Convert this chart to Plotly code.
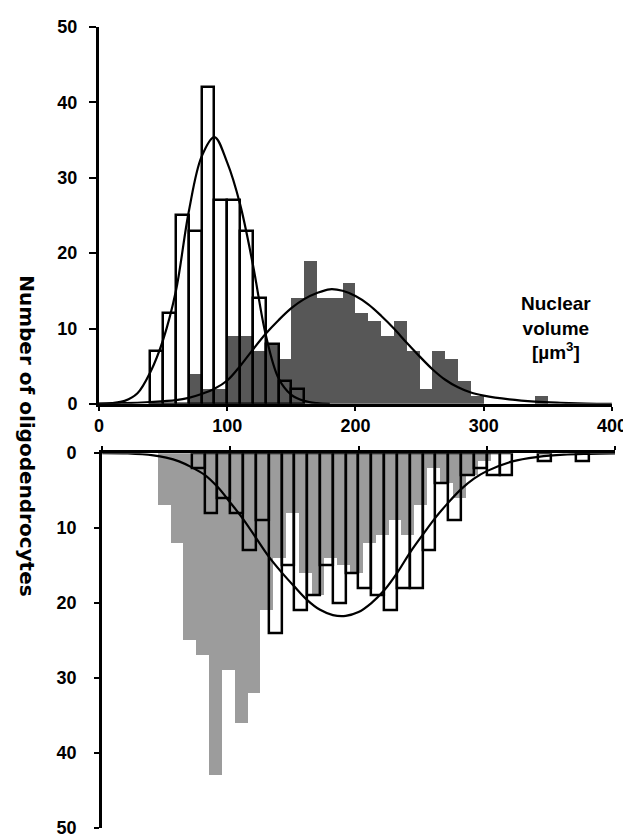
import plotly.graph_objects as go

# ---------------- data (bin = 10 µm³, value = left edge of bin) ----------------
BIN = 10

# upper histogram
top_open_bins = [40, 50, 60, 70, 80, 90, 100, 110, 120, 130, 140, 150]
top_open_counts = [7, 12, 25, 23, 42, 27, 27, 23, 14, 8, 3, 2]

top_grey_bins = [70, 80, 90, 100, 110, 120, 130, 140, 150, 160, 170, 180, 190,
                 200, 210, 220, 230, 240, 250, 260, 270, 280, 290, 340]
top_grey_counts = [4, 2, 2, 9, 9, 7, 8, 6, 14, 19, 14, 14, 16,
                   12, 11, 9, 11, 7, 2, 7, 6, 3, 1, 1]

# lower histogram (plotted downwards)
bot_grey_bins = [40, 50, 60, 70, 80, 90, 100, 110, 120, 130, 140, 150, 160, 170,
                 180, 190, 200, 210, 220, 230, 240, 250, 260, 270, 280, 290]
bot_grey_counts = [7, 12, 25, 27, 43, 29, 36, 32, 21, 14, 8, 16, 19, 14,
                   15, 16, 12, 11, 9, 11, 7, 2, 4, 6, 3, 1]

bot_open_bins = [70, 80, 90, 100, 110, 120, 130, 140, 150, 160, 170, 180, 190,
                 200, 210, 220, 230, 240, 250, 260, 270, 280, 290, 300, 310, 340, 370]
bot_open_counts = [2, 8, 6, 8, 13, 9, 24, 15, 21, 19, 15, 20, 16,
                   18, 19, 21, 18, 18, 13, 4, 9, 3, 2, 3, 3, 1, 1]

# fitted curves
fit_top_open_x = [0, 10, 20, 30, 40, 50, 60, 70, 80, 90, 100, 110, 120, 130, 140, 150, 160, 170, 180]
fit_top_open_y = [0, 0.1, 0.4, 1.4, 4.2, 8.5, 15, 25.5, 32.8, 35.4, 32, 26.5, 18.5, 9.2, 3.4, 1.2, 0.4, 0.1, 0]

fit_top_grey_x = [0, 20, 40, 60, 70, 80, 90, 100, 110, 120, 130, 140, 150, 160, 170, 180, 190,
                  200, 210, 220, 230, 240, 250, 260, 270, 280, 290, 300, 320, 340, 360, 380, 400]
fit_top_grey_y = [0.05, 0.1, 0.25, 0.5, 0.8, 1.3, 2.0, 3.1, 5.0, 7.2, 9.3, 11.1, 12.7, 13.9, 14.7, 15.2, 15.0,
                  14.3, 13.2, 11.7, 10.0, 8.1, 6.3, 4.6, 3.2, 2.2, 1.5, 1.1, 0.6, 0.3, 0.15, 0.05, 0]

fit_bot_x = [0, 20, 40, 50, 60, 70, 80, 90, 100, 110, 120, 130, 140, 150, 160, 170, 180, 190,
             200, 210, 220, 230, 240, 250, 260, 270, 280, 290, 300, 320, 340, 360, 380, 400]
fit_bot_y = [0, 0.05, 0.3, 0.6, 1.1, 1.9, 2.9, 4.5, 6.6, 8.8, 11.3, 13.8, 15.9, 17.8, 19.6, 20.9, 21.6, 21.7,
             21.2, 20.0, 18.3, 16.0, 13.3, 10.9, 8.6, 6.6, 4.8, 3.4, 2.4, 1.1, 0.5, 0.2, 0.1, 0.05]

x_ticks = [0, 100, 200, 300, 400]
y_ticks = [0, 10, 20, 30, 40, 50]

# ---------------- styles ----------------
FONT = "Liberation Sans"
TITLE_FONT = "DejaVu Sans"
DARK = "#575757"
LIGHT = "#9c9c9c"
GREY_SHIFT = 3.5  # lower grey histogram drawn slightly right of the open one


def centers(bins, shift=0.0):
    return [b + BIN / 2 + shift for b in bins]


fig = go.Figure()

# upper panel
fig.add_trace(go.Bar(x=centers(top_grey_bins), y=top_grey_counts, width=BIN,
                     marker=dict(color=DARK, line=dict(width=0)), xaxis="x", yaxis="y"))
fig.add_trace(go.Bar(x=centers(top_open_bins), y=top_open_counts, width=BIN,
                     marker=dict(color="rgba(0,0,0,0)", line=dict(color="black", width=2.5)),
                     xaxis="x", yaxis="y"))
fig.add_trace(go.Scatter(x=fit_top_open_x, y=fit_top_open_y, mode="lines",
                         line=dict(color="black", width=2.2, shape="spline", smoothing=1.0),
                         xaxis="x", yaxis="y"))
fig.add_trace(go.Scatter(x=fit_top_grey_x, y=fit_top_grey_y, mode="lines",
                         line=dict(color="black", width=2.2, shape="spline", smoothing=1.0),
                         xaxis="x", yaxis="y"))

# lower panel
fig.add_trace(go.Bar(x=centers(bot_grey_bins, GREY_SHIFT), y=bot_grey_counts, width=BIN,
                     marker=dict(color=LIGHT, line=dict(width=0)), xaxis="x2", yaxis="y2"))
fig.add_trace(go.Bar(x=centers(bot_open_bins), y=bot_open_counts, width=BIN,
                     marker=dict(color="rgba(0,0,0,0)", line=dict(color="black", width=2.5)),
                     xaxis="x2", yaxis="y2"))
fig.add_trace(go.Scatter(x=fit_bot_x, y=fit_bot_y, mode="lines",
                         line=dict(color="black", width=2.2, shape="spline", smoothing=1.0),
                         xaxis="x2", yaxis="y2"))

tickfont = dict(family=FONT, size=18, color="black", weight="bold")
axis_common = dict(showline=True, linecolor="black", linewidth=3, showgrid=False,
                   zeroline=False, ticks="outside", tickcolor="black", tickwidth=2,
                   tickfont=tickfont)

fig.update_layout(
    width=631, height=839,
    margin=dict(l=91, r=23, t=16, b=9),
    paper_bgcolor="white", plot_bgcolor="white",
    barmode="overlay", bargap=0, showlegend=False,
    xaxis=dict(domain=[0, 0.994], range=[0, 400], anchor="y", tickvals=x_ticks,
               ticklen=4, **axis_common),
    yaxis=dict(domain=[0.5295, 1], range=[0, 50], anchor="x", tickvals=y_ticks,
               ticklen=7, ticklabelstandoff=8, **axis_common),
    xaxis2=dict(domain=[0.006, 1], range=[0, 400], anchor="y2", side="top",
                tickvals=x_ticks, showticklabels=False, ticklen=4, **axis_common),
    yaxis2=dict(domain=[0, 0.468], range=[50, 0], anchor="x2", tickvals=y_ticks,
                ticklen=5, ticklabelstandoff=14, **axis_common),
    annotations=[
        dict(text="Number of oligodendrocytes", xref="paper", yref="paper",
             x=-0.139, y=0.49, xanchor="center", yanchor="middle", textangle=90,
             showarrow=False, font=dict(family=TITLE_FONT, size=20, color="black", weight="bold")),
        dict(text="Nuclear<br>volume<br>[µm<sup>3</sup>]", xref="paper", yref="paper",
             x=0.886, y=0.624, xanchor="center", yanchor="middle", align="center",
             showarrow=False, font=dict(family=FONT, size=19, color="black", weight="bold")),
    ],
)

fig.write_html("out.html")
